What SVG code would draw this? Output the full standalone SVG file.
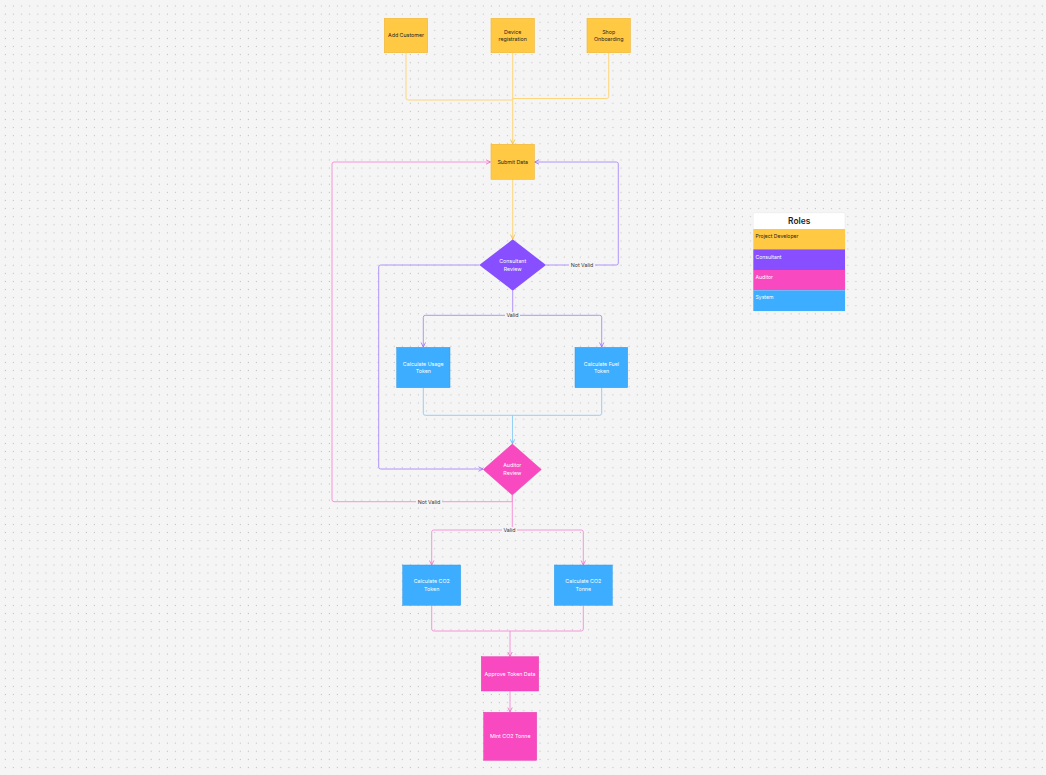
<svg xmlns="http://www.w3.org/2000/svg" width="1046" height="775" viewBox="0 0 1046 775">
<defs>
<pattern id="grid" x="1.45" y="2" width="8.1" height="8.1" patternUnits="userSpaceOnUse">
<rect x="3.4" y="3.5" width="1.1" height="1.1" fill="#c2c2c2"/>
</pattern>
<marker id="ay" viewBox="0 0 6 6" refX="5.5" refY="3" markerWidth="6" markerHeight="6" markerUnits="userSpaceOnUse" orient="auto"><path d="M1,0.8 L5.5,3 L1,5.2" fill="none" stroke="#F5BE3A" stroke-width="0.8"/></marker>
<marker id="ap" viewBox="0 0 6 6" refX="5.5" refY="3" markerWidth="6" markerHeight="6" markerUnits="userSpaceOnUse" orient="auto"><path d="M1,0.8 L5.5,3 L1,5.2" fill="none" stroke="#9A6CF7" stroke-width="0.8"/></marker>
<marker id="ak" viewBox="0 0 6 6" refX="5.5" refY="3" markerWidth="6" markerHeight="6" markerUnits="userSpaceOnUse" orient="auto"><path d="M1,0.8 L5.5,3 L1,5.2" fill="none" stroke="#F06ACB" stroke-width="0.8"/></marker>
<marker id="ab" viewBox="0 0 6 6" refX="5.5" refY="3" markerWidth="6" markerHeight="6" markerUnits="userSpaceOnUse" orient="auto"><path d="M1,0.8 L5.5,3 L1,5.2" fill="none" stroke="#5DB8F5" stroke-width="0.8"/></marker>
</defs>
<style>
text{font-family:Inter,"Liberation Sans",sans-serif;font-size:5.3px;text-anchor:middle}
.dk{fill:#1e1e1e}
.wt{fill:#ffffff}
.yel{fill:#FFC943;stroke:#F2B533;stroke-width:0.6}
.pur{fill:#874FFF}
.pnk{fill:#F849C1;stroke:#E63DAF;stroke-width:0.5}
.blu{fill:#3DADFF;stroke:#2E9BEA;stroke-width:0.5}
.cy{fill:none;stroke:#FFD46E;stroke-width:0.9}
.cp{fill:none;stroke:#A98BFA;stroke-width:0.9}
.ck{fill:none;stroke:#F78BD6;stroke-width:0.9}
.cb{fill:none;stroke:#8CCBF5;stroke-width:0.9}
.lbl{fill:#333333;text-anchor:middle}
.lblbg{fill:#f5f5f5}
.role{text-anchor:start;font-size:5.1px}
</style>
<rect width="1046" height="775" fill="#f5f5f5"/>
<rect width="1046" height="775" fill="url(#grid)"/>

<g id="connectors">
<path class="cy" d="M406,53 V98 Q406,100 408,100 H512.7"/>
<path class="cy" d="M608.7,53 V96.5 Q608.7,98.5 606.7,98.5 H512.7"/>
<path class="cy" d="M512.7,53 V144" marker-end="url(#ay)"/>
<path class="cy" d="M512.7,179.5 V239" marker-end="url(#ay)"/>
<!-- consultant not valid -->
<path class="cp" d="M546,265 H616.3 Q618.3,265 618.3,263 V164 Q618.3,162 616.3,162 H534.5" marker-end="url(#ap)"/>
<!-- consultant left to auditor -->
<path class="cp" d="M479.3,265 H380.7 Q378.7,265 378.7,267 V467 Q378.7,469 380.7,469 H483" marker-end="url(#ap)"/>
<!-- consultant valid -->
<path class="cp" d="M512.7,290.7 V315.3"/>
<path class="cp" d="M512.7,315.3 H425.3 Q423.3,315.3 423.3,317.3 V347" marker-end="url(#ap)"/>
<path class="cp" d="M512.7,315.3 H599.7 Q601.7,315.3 601.7,317.3 V347" marker-end="url(#ap)"/>
<!-- blue join -->
<path class="cb" d="M423.3,388 V413.3 Q423.3,415.3 425.3,415.3 H512.5"/>
<path class="cb" d="M601.7,388 V413.3 Q601.7,415.3 599.7,415.3 H512.5"/>
<path class="cb" d="M512.5,415.3 V443.8" marker-end="url(#ab)"/>
<!-- auditor not valid -->
<path class="ck" d="M512.3,495 V501.7 H334 Q332,501.7 332,499.7 V164 Q332,162 334,162 H490.5" marker-end="url(#ak)"/>
<!-- auditor valid -->
<path class="ck" d="M512.3,495 V530"/>
<path class="ck" d="M512.3,530 H433.7 Q431.7,530 431.7,532 V565" marker-end="url(#ak)"/>
<path class="ck" d="M512.3,530 H581.3 Q583.3,530 583.3,532 V565" marker-end="url(#ak)"/>
<!-- CO2 join -->
<path class="ck" d="M431.7,605.5 V629 Q431.7,631 433.7,631 H510"/>
<path class="ck" d="M583.3,605.5 V629 Q583.3,631 581.3,631 H510"/>
<path class="ck" d="M510,631 V656.5" marker-end="url(#ak)"/>
<path class="ck" d="M510,691.2 V712" marker-end="url(#ak)"/>
<!-- labels -->
<rect class="lblbg" x="569" y="261.5" width="26" height="7"/>
<text class="lbl" x="582" y="267">Not Valid</text>
<rect class="lblbg" x="505" y="312" width="15" height="7"/>
<text class="lbl" x="512.5" y="317.2">Valid</text>
<rect class="lblbg" x="416" y="498.5" width="26" height="7"/>
<text class="lbl" x="429" y="504">Not Valid</text>
<rect class="lblbg" x="502" y="527" width="15" height="7"/>
<text class="lbl" x="509.5" y="532">Valid</text>
</g>

<g id="add-customer">
<rect class="yel" x="384.3" y="18.3" width="43.4" height="34.4"/>
<text class="dk" x="406" y="37.3">Add Customer</text>
</g>
<g id="device-registration">
<rect class="yel" x="491" y="18.3" width="43.3" height="34.4"/>
<text class="dk" x="512.7" y="33.6">Device</text>
<text class="dk" x="512.7" y="41.3">registration</text>
</g>
<g id="shop-onboarding">
<rect class="yel" x="587" y="18.3" width="43.3" height="34.4"/>
<text class="dk" x="608.7" y="33.6">Shop</text>
<text class="dk" x="608.7" y="41.3">Onboarding</text>
</g>
<g id="submit-data">
<rect class="yel" x="491" y="144.3" width="43.3" height="35"/>
<text class="dk" x="512.7" y="163.7">Submit Data</text>
</g>
<g id="consultant-review">
<polygon class="pur" points="512.7,239.3 546,265 512.7,290.7 479.3,265"/>
<text class="wt" x="512.7" y="262.9">Consultant</text>
<text class="wt" x="512.7" y="270.6">Review</text>
</g>
<g id="calculate-usage-token">
<rect class="blu" x="396.7" y="347.3" width="53.3" height="40.4"/>
<text class="wt" x="423.3" y="365.7">Calculate Usage</text>
<text class="wt" x="423.3" y="373.4">Token</text>
</g>
<g id="calculate-fuel-token">
<rect class="blu" x="575" y="347.3" width="52.7" height="40.4"/>
<text class="wt" x="601.5" y="365.7">Calculate Fuel</text>
<text class="wt" x="601.5" y="373.4">Token</text>
</g>
<g id="auditor-review">
<polygon class="pnk" points="512.3,444 541.3,469.5 512.3,495 483.3,469.5"/>
<text class="wt" x="512.3" y="467.4">Auditor</text>
<text class="wt" x="512.3" y="475.1">Review</text>
</g>
<g id="calculate-co2-token">
<rect class="blu" x="402.7" y="565" width="58" height="40.3"/>
<text class="wt" x="431.7" y="583.4">Calculate CO2</text>
<text class="wt" x="431.7" y="591.1">Token</text>
</g>
<g id="calculate-co2-tonne">
<rect class="blu" x="554.3" y="565" width="58" height="40.3"/>
<text class="wt" x="583.3" y="583.4">Calculate CO2</text>
<text class="wt" x="583.3" y="591.1">Tonne</text>
</g>
<g id="approve-token-data">
<rect class="pnk" x="481.3" y="656.7" width="57.4" height="34.3"/>
<text class="wt" x="510" y="675.7">Approve Token Data</text>
</g>
<g id="mint-co2-tonne">
<rect class="pnk" x="483.7" y="712.3" width="53" height="48"/>
<text class="wt" x="510.2" y="738.2">Mint CO2 Tonne</text>
</g>

<g id="roles-legend">
<rect x="753.3" y="212.7" width="91.7" height="98.3" rx="1" fill="#ffffff" stroke="#e6e6e6" stroke-width="0.5"/>
<text x="799.2" y="224.3" style="font-size:8.4px;font-weight:600" fill="#1e1e1e">Roles</text>
<rect x="753.3" y="229" width="91.7" height="20.3" fill="#FFC943"/>
<rect x="753.3" y="249.3" width="91.7" height="20.7" fill="#874FFF"/>
<rect x="753.3" y="270" width="91.7" height="20.3" fill="#F849C1"/>
<rect x="753.3" y="290.3" width="91.7" height="20.7" fill="#3DADFF"/>
<text class="role" x="755.5" y="238.4" fill="#1e1e1e">Project Developer</text>
<text class="role" x="755.5" y="258.6" fill="#ffffff">Consultant</text>
<text class="role" x="755.5" y="278.6" fill="#ffffff">Auditor</text>
<text class="role" x="755.5" y="298.9" fill="#ffffff">System</text>
</g>
</svg>
